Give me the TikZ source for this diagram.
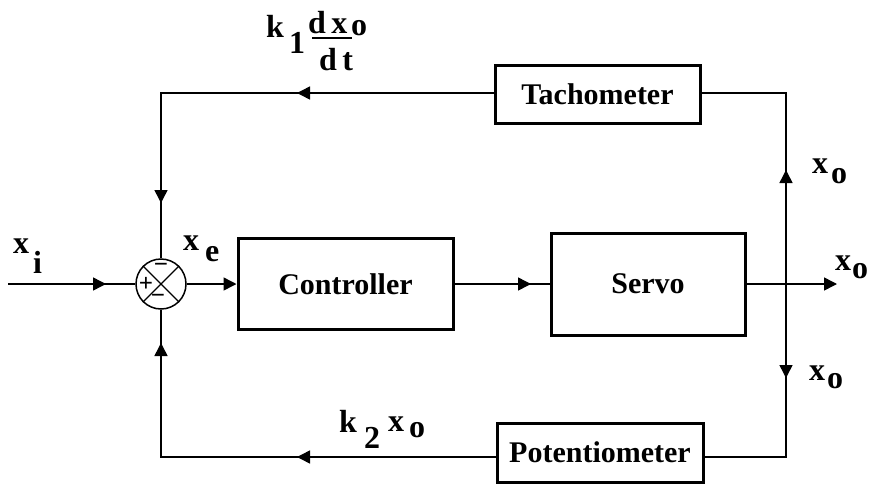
\documentclass[tikz,border=0pt]{standalone}
\usepackage{fontspec}
\setmainfont{Liberation Serif}
\usetikzlibrary{arrows.meta}
\newcommand\lblfont{\fontsize{32}{34}\selectfont\bfseries}
\newcommand\boxfont{\fontsize{30}{32}\selectfont\bfseries}
\begin{document}
\begin{tikzpicture}[x=1pt,y=1pt,
  blk/.style={draw,line width=3pt,inner sep=0pt,font=\boxfont},
  wire/.style={line width=1.5pt},
  arr/.style={line width=1.5pt,-{Triangle[length=13pt,width=13pt]}},
  lbl/.style={anchor=base west,inner sep=0pt,font=\lblfont},
  sgn/.style={inner sep=0pt,font=\fontsize{25}{25}\selectfont\bfseries}]
\useasboundingbox (0,0) rectangle (870,-485);
% blocks
\node[blk,minimum width=215pt,minimum height=91pt] (ctrl) at (345.5,-284) {Controller};
\node[blk,minimum width=194pt,minimum height=102pt] (servo) at (648,-284) {Servo};
\node[blk,minimum width=205pt,minimum height=58pt] (tach) at (597.5,-94) {Tachometer\hspace{22pt}};
\node[blk,minimum width=206pt,minimum height=59pt] (pot) at (600,-452.5) {Potentiometer};
% summing junction
\node[draw,circle,line width=1.5pt,minimum size=50pt,inner sep=0pt] (sum) at (161,-284) {};
\draw[line width=1.2pt] (sum.north west) -- (sum.south east) (sum.north east) -- (sum.south west);
\node[sgn] (sgnt) at (161,-268) {\textminus};
\node[sgn] (sgnl) at (146,-284) {+};
\node[sgn] (sgnb) at (158,-299) {\textminus};
% coordinates
\coordinate (in) at (8,-284);
\coordinate (tipin) at (106,-284);
\coordinate (tl) at (161,-93);
\coordinate (bl) at (161,-457);
\coordinate (tr) at (786,-93);
\coordinate (br) at (786,-457);
\coordinate (mr) at (786,-284);
\coordinate (out) at (837,-284);
\coordinate (tipup) at (786,-170);
\coordinate (tipdn) at (786,-378);
\coordinate (tiptl) at (297,-93);
\coordinate (tipld) at (161,-203);
\coordinate (tipbl) at (297,-457);
\coordinate (tiplu) at (161,-343);
\coordinate (tipcs) at (531,-284);
% forward path
\draw[wire] (in) -- (sum.west);
\draw[arr] (in) -- (tipin);
\draw[arr] (sum.east) -- (ctrl.west);
\draw[wire] (ctrl.east) -- (servo.west);
\draw[arr] (ctrl.east) -- (tipcs);
\draw[arr] (servo.east) -- (out);
% right vertical
\draw[wire] (tach.east |- tr) -- (tr) -- (br) -- (pot.east |- br);
\draw[arr] (mr) -- (tipup);
\draw[arr] (mr) -- (tipdn);
% top feedback
\draw[wire] (tach.west |- tl) -- (tl) -- (sum.north);
\draw[arr] (tach.west |- tl) -- (tiptl);
\draw[arr] (tl) -- (tipld);
% bottom feedback
\draw[wire] (pot.west |- bl) -- (bl) -- (sum.south);
\draw[arr] (pot.west |- bl) -- (tipbl);
\draw[arr] (bl) -- (tiplu);
% labels
\node[lbl] (xi) at (13,-253) {x};
\node[lbl] (xii) at (33,-273) {i};
\node[lbl] (xe) at (183,-250) {x};
\node[lbl] (xee) at (205,-261) {e};
\node[lbl] (k1) at (266,-37) {k};
\node[lbl] (k1s) at (289,-53) {1};
\node[lbl] (dx) at (308,-33) {d\,x};
\node[lbl] (dxo) at (351,-35) {o};
\draw[wire] (312,-38) -- (352,-38);
\node[lbl] (dt) at (319,-70) {d\,t};
\node[lbl] (k2) at (339,-432) {k};
\node[lbl] (k2s) at (364,-448) {2};
\node[lbl] (k2x) at (388,-431) {x};
\node[lbl] (k2o) at (409,-437) {o};
\node[lbl] (xu) at (812,-173) {x};
\node[lbl] (xuo) at (831,-183) {o};
\node[lbl] (xm) at (835,-270) {x};
\node[lbl] (xmo) at (852,-278) {o};
\node[lbl] (xd) at (809,-380) {x};
\node[lbl] (xdo) at (827,-388) {o};
\end{tikzpicture}
\end{document}
